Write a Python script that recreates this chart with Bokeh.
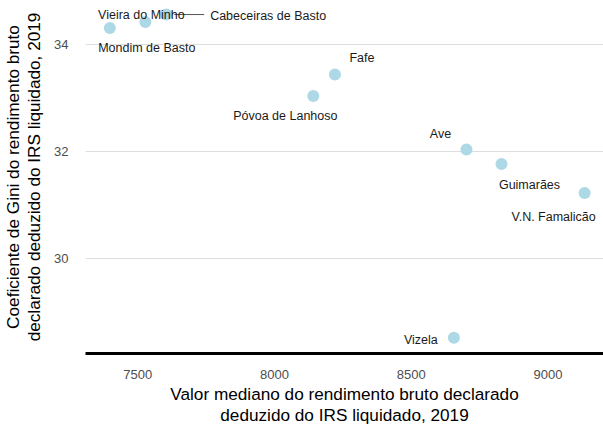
from bokeh.plotting import figure
from bokeh.models import ColumnDataSource, FixedTicker, Range1d
from bokeh.core.properties import value
from bokeh.embed import file_html
from bokeh.resources import INLINE

# ---- data ----
municipalities = ["Mondim de Basto", "Vieira do Minho", "Cabeceiras de Basto", "Fafe",
                  "Póvoa de Lanhoso", "Ave", "Guimarães", "V.N. Famalicão", "Vizela"]
median_income = [7398, 7528, 7604, 8221, 8142, 8702, 8830, 9134, 8656]
gini = [34.30, 34.41, 34.55, 33.43, 33.03, 32.03, 31.76, 31.22, 28.52]
x_ticks = [7500, 8000, 8500, 9000]
y_ticks = [30, 32, 34]
x_title = "Valor mediano do rendimento bruto declarado\ndeduzido do IRS liquidado, 2019"
y_title = "Coeficiente de Gini do rendimento bruto\ndeclarado deduzido do IRS liquidado, 2019"

# label placement (screen-pixel offsets from each point, like ggrepel)
label_dx = [37, -4, 102, 27, -28, -26, 28, -31, -33]
label_dy = [20, -7, 1, -17, 20, -16, 21, 24, 2]

FONT = "Liberation Sans"
W, H = 603, 428
ML, MR, MT, MB = 85, 0, 0, 75
x_start, x_end = 7309.1, 9203
y_start, y_end = 28.226, 34.812

p = figure(width=W, height=H, output_backend="svg", toolbar_location=None,
           x_range=Range1d(x_start, x_end), y_range=Range1d(y_start, y_end),
           min_border_left=ML, min_border_right=MR, min_border_top=MT, min_border_bottom=MB)
p.outline_line_color = None
p.background_fill_color = "white"
p.border_fill_color = "white"

p.xgrid.grid_line_color = None
p.ygrid.grid_line_color = "#dddddd"
p.ygrid.grid_line_width = 1

p.xaxis.ticker = FixedTicker(ticks=x_ticks)
p.yaxis.ticker = FixedTicker(ticks=y_ticks)
for ax in (p.xaxis, p.yaxis):
    ax.major_tick_line_color = None
    ax.minor_tick_line_color = None
    ax.major_tick_out = 0
    ax.major_tick_in = 0
    ax.minor_tick_out = 0
    ax.minor_tick_in = 0
    ax.major_label_text_font = FONT
    ax.major_label_text_font_size = "13px"
    ax.major_label_text_color = "#4d4d4d"
    ax.axis_label_text_font = FONT
    ax.axis_label_text_font_size = "17.2px"
    ax.axis_label_text_font_style = "normal"
    ax.axis_label_text_color = "black"
    ax.axis_label_text_line_height = 1.05

p.xaxis.axis_line_color = "black"
p.xaxis.axis_line_width = 3
p.xaxis.major_label_standoff = 16
p.xaxis.axis_label_standoff = 2
p.xaxis.axis_label = x_title

p.yaxis.axis_line_color = None
p.yaxis.major_label_standoff = 17
p.yaxis.axis_label_standoff = 7
p.yaxis.axis_label = y_title

src = ColumnDataSource(dict(x=median_income, y=gini, name=municipalities,
                            dx=label_dx, dy=label_dy))

# connector segment for the repelled "Cabeceiras de Basto" label
frame_w = W - ML - MR
px_per_x = frame_w / (x_end - x_start)
i = municipalities.index("Cabeceiras de Basto")
seg_start_px, seg_end_px = 8, 38
p.segment(x0=[median_income[i] + seg_start_px / px_per_x], y0=[gini[i]],
          x1=[median_income[i] + seg_end_px / px_per_x], y1=[gini[i]],
          line_color="#555555", line_width=1)

p.scatter("x", "y", source=src, size=12, fill_color="#add8e6", line_color=None)

p.text("x", "y", text="name", source=src, x_offset="dx", y_offset="dy",
       text_align="center", text_baseline="middle",
       text_font=value(FONT), text_font_size="12.5px", text_color="#1a1a1a")

open("out.html", "w").write(file_html(p, INLINE))
